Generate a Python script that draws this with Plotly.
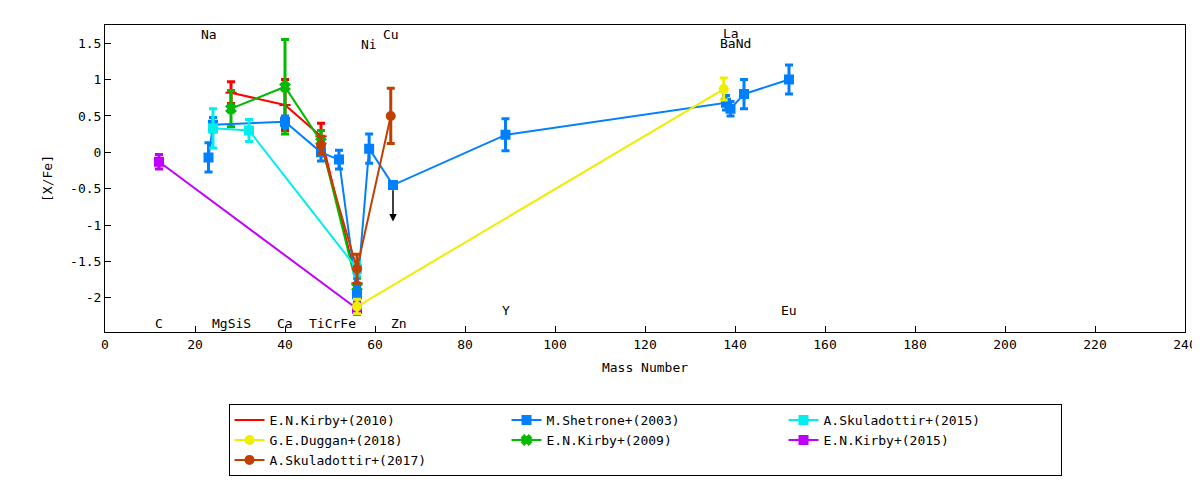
import plotly.graph_objects as go

# element labels
lab_top = ["Na", "Ni", "Cu", "La", "BaNd"]
lab_top_x = [23, 58.7, 63.5, 139, 140]
lab_top_y = [1.62, 1.48, 1.62, 1.64, 1.5]
lab_bot = ["C", "MgSiS", "Ca", "TiCrFe", "Zn", "Y", "Eu"]
lab_bot_x = [12, 28, 40, 50.5, 65.4, 89, 152]
lab_bot_y = [-2.35, -2.35, -2.35, -2.35, -2.35, -2.17, -2.17]

series = [
    dict(name="E.N.Kirby+(2010)", color="#ff0000", sym="line-ew-open",
         x=[28, 40, 48, 56], y=[0.82, 0.65, 0.22, -1.8], e=[0.15, 0.35, 0.18, 0.15]),
    dict(name="E.N.Kirby+(2009)", color="#00bb00", sym="x",
         x=[28, 40, 48, 56], y=[0.6, 0.9, 0.15, -1.85], e=[0.25, 0.65, 0.15, 0.12]),
    dict(name="M.Shetrone+(2003)", color="#0080ff", sym="square",
         x=[23, 24, 40, 48, 52, 56, 58.7, 64, 89, 138, 139, 142, 152],
         y=[-0.07, 0.38, 0.42, 0.0, -0.1, -1.95, 0.05, -0.45, 0.24, 0.68, 0.6, 0.8, 1.0],
         e=[0.2, 0.1, 0.08, 0.12, 0.13, 0.1, 0.2, 0, 0.22, 0.1, 0.1, 0.2, 0.2]),
    dict(name="E.N.Kirby+(2015)", color="#c000ff", sym="square",
         x=[12, 56], y=[-0.13, -2.15], e=[0.1, 0.08]),
    dict(name="A.Skuladottir+(2015)", color="#00eeee", sym="square",
         x=[24, 32, 56], y=[0.33, 0.3, -1.6], e=[0.27, 0.15, 0.1]),
    dict(name="A.Skuladottir+(2017)", color="#c04000", sym="circle",
         x=[48, 56, 63.5], y=[0.1, -1.6, 0.5], e=[0.12, 0.2, 0.38]),
    dict(name="G.E.Duggan+(2018)", color="#eeee00", sym="circle",
         x=[56, 137.5], y=[-2.12, 0.87], e=[0.1, 0.15]),
]
rank = [1, 5, 2, 6, 3, 7, 4]

fig = go.Figure()
for s, r in zip(series, rank):
    fig.add_trace(go.Scatter(
        x=s["x"], y=s["y"], name=s["name"], mode="lines+markers", legendrank=r,
        line=dict(color=s["color"], width=2),
        marker=dict(color=s["color"], symbol=s["sym"], size=8,
                    line=dict(color=s["color"], width=2)),
        error_y=dict(type="data", array=s["e"], color=s["color"], thickness=3, width=4)))

# Zn upper limit arrow
fig.add_annotation(x=64, y=-0.95, ax=64, ay=-0.5, xref="x", yref="y", axref="x", ayref="y",
                   showarrow=True, arrowhead=2, arrowsize=1, arrowwidth=1.5, arrowcolor="black", text="")

for t, x, y in zip(lab_top + lab_bot, lab_top_x + lab_bot_x, lab_top_y + lab_bot_y):
    fig.add_annotation(x=x, y=y, text=t, showarrow=False, font=dict(size=13, color="black"))

axis = dict(showgrid=False, zeroline=False, showline=True, mirror=True, linecolor="black",
            ticks="inside", tickcolor="black", ticklen=6, tickfont=dict(size=13), automargin=False)
fig.update_layout(
    width=1200, height=480, plot_bgcolor="white", paper_bgcolor="white",
    font=dict(family="DejaVu Sans Mono", color="black", size=13),
    margin=dict(l=97, r=23, t=17, b=125),
    xaxis=dict(axis, range=[0, 240], dtick=20,
               title=dict(text="Mass Number", standoff=12, font=dict(size=13))),
    yaxis=dict(axis, range=[-2.47, 1.75], tickvals=[-2, -1.5, -1, -0.5, 0, 0.5, 1, 1.5],
               ticktext=["-2", "-1.5", "-1", "-0.5", "0", "0.5", "1", "1.5"],
               title=dict(text="[X/Fe]", standoff=14, font=dict(size=13))),
    legend=dict(orientation="h", x=0.5, xanchor="center", y=-0.235, yanchor="top",
                bordercolor="black", borderwidth=1, entrywidth=232, entrywidthmode="pixels",
                font=dict(size=13), traceorder="normal"),
)
fig.write_html("out.html")
